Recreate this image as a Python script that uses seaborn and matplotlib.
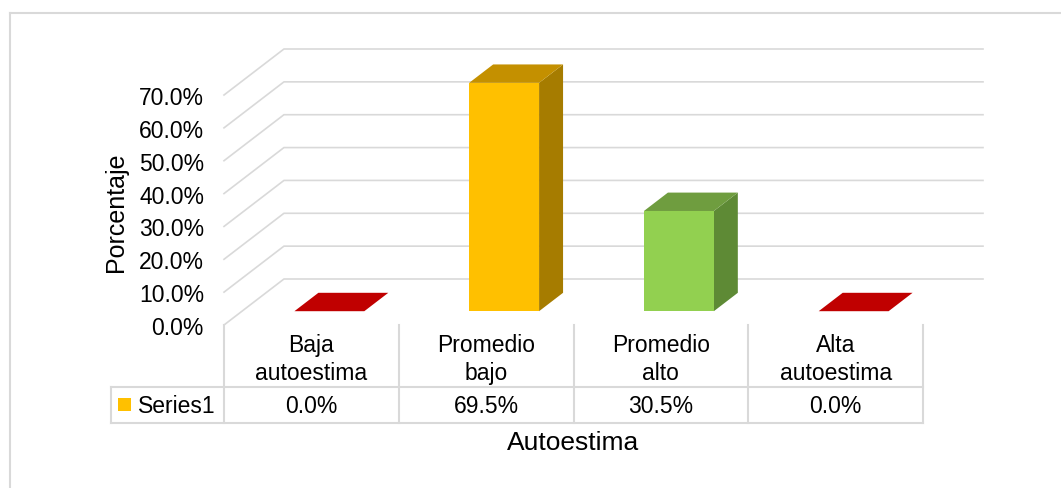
import numpy as np
import matplotlib
matplotlib.use("Agg")
import matplotlib.pyplot as plt
import matplotlib.transforms as mtransforms
from matplotlib.patches import Polygon, Rectangle
from matplotlib.lines import Line2D
import seaborn as sns

# data
categories = ["Baja\nautoestima", "Promedio\nbajo", "Promedio\nalto", "Alta\nautoestima"]
values = [0.0, 69.5, 30.5, 0.0]
value_labels = ["0.0%", "69.5%", "30.5%", "0.0%"]
y_ticks = [0, 10, 20, 30, 40, 50, 60, 70]
series_name = "Series1"

# colours (front, top, side) per bar
front_colors = ["#ff0000", "#ffc000", "#92d050", "#ff0000"]
top_colors = ["#c00000", "#c49000", "#6f9d3f", "#c00000"]
side_colors = ["#a00000", "#a67c00", "#5e8a35", "#a00000"]
grid_col = "#d9d9d9"

plt.rcParams["font.family"] = ["Liberation Sans", "DejaVu Sans"]

# pseudo-3d depth of the floor, in data units (x: categories, y: percent)
DX, DY = 0.343, 14.0
BAR_FRONT, BAR_DEPTH = 0.3, 0.4

fig = plt.figure(figsize=(10.61, 4.89), dpi=100)
ax = fig.add_axes([224 / 1061, 163 / 489, 759 / 1061, 276 / 489])

# back wall + side wall gridlines
for v in y_ticks:
    ax.plot([-0.5, -0.5 + DX, len(categories) - 0.5 + DX], [v, v + DY, v + DY],
            color=grid_col, lw=1.2, zorder=0, clip_on=False)

# front faces through seaborn
sns.barplot(x=categories, y=values, hue=categories, palette=front_colors,
            width=0.4, linewidth=0, saturation=1, legend=False, ax=ax, zorder=3)

fx, fy = BAR_FRONT * DX, BAR_FRONT * DY
bx, by = BAR_DEPTH * DX, BAR_DEPTH * DY
shift = mtransforms.Affine2D().translate(fx, fy) + ax.transData
for p in ax.patches[:]:
    i = int(round(p.get_x() + p.get_width() / 2))
    p.set_transform(shift)
    x0, w, h = p.get_x() + fx, p.get_width(), p.get_height()
    b = fy
    side = Polygon([(x0 + w, b), (x0 + w + bx, b + by), (x0 + w + bx, b + h + by), (x0 + w, b + h)],
                   closed=True, facecolor=side_colors[i], edgecolor="none", zorder=2)
    top = Polygon([(x0, b + h), (x0 + w, b + h), (x0 + w + bx, b + h + by), (x0 + bx, b + h + by)],
                  closed=True, facecolor=top_colors[i], edgecolor="none", zorder=2)
    ax.add_patch(side)
    ax.add_patch(top)

ax.set_xlim(-0.5, len(categories) - 0.5 + DX)
ax.set_ylim(0, 70 + DY)
for s in ax.spines.values():
    s.set_visible(False)
ax.set_xticks([])
ax.set_yticks(y_ticks)
ax.set_yticklabels([f"{v:.1f}%" for v in y_ticks])
ax.tick_params(axis="y", length=0, pad=14.4, labelsize=16.5, labelcolor="black")

# data table below the axis
bt = mtransforms.blended_transform_factory(ax.transData, ax.transAxes)
y_row, y_bot = -0.2246, -0.3551
x_left = -1.146
edges = np.arange(len(categories) + 1) - 0.5
for xe in edges:
    ax.plot([xe, xe], [0, y_bot], color=grid_col, lw=1.5, transform=bt, clip_on=False)
for yy in (y_row, y_bot):
    ax.plot([x_left, edges[-1]], [yy, yy], color=grid_col, lw=1.5, transform=bt, clip_on=False)
ax.plot([x_left, x_left], [y_row, y_bot], color=grid_col, lw=1.5, transform=bt, clip_on=False)

for i, (cat, lab) in enumerate(zip(categories, value_labels)):
    ax.text(i, -0.1214, cat, transform=bt, ha="center", va="center",
            fontsize=16.5, linespacing=1.3)
    ax.text(i, -0.29, lab, transform=bt, ha="center", va="center", fontsize=16.5)

ax.add_patch(Rectangle((-1.106, -0.3116), 0.074, 0.047, transform=bt,
                       facecolor="#ffc000", edgecolor="none", clip_on=False))
ax.text(-0.992, -0.29, series_name, transform=bt, ha="left", va="center", fontsize=16.5)

ax.set_xlabel("Autoestima", fontsize=19)
ax.xaxis.set_label_coords(0.4598, -0.424)
ax.xaxis.label.set_va("center")
ax.set_ylabel("Porcentaje", fontsize=18)
ax.yaxis.set_label_coords(-0.1423, 0.411)
ax.yaxis.label.set_va("center")

# chart area border (top and left visible)
fig.add_artist(Line2D([9.5 / 1061, 1.0], [1 - 14 / 489] * 2, color=grid_col, lw=1.5,
                      transform=fig.transFigure))
fig.add_artist(Line2D([9.5 / 1061] * 2, [0, 1 - 14 / 489], color=grid_col, lw=1.5,
                      transform=fig.transFigure))

fig.savefig("out.png", dpi=100)
